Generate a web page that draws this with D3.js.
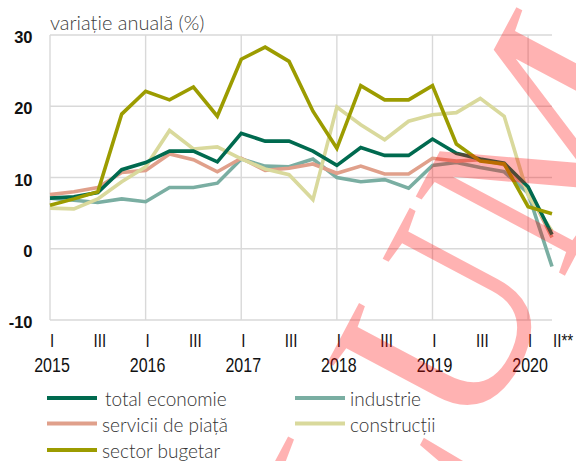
<!DOCTYPE html>
<html>
<head>
<meta charset="utf-8">
<script src="https://cdn.jsdelivr.net/npm/d3@7"></script>
<style>
  html, body { margin: 0; padding: 0; background: #ffffff; }
  svg { display: block; }
</style>
</head>
<body>
<svg id="chart" width="576" height="461"></svg>
<script>
// ---------- DATA ----------
const quarters = [
  "2015Q1","2015Q2","2015Q3","2015Q4",
  "2016Q1","2016Q2","2016Q3","2016Q4",
  "2017Q1","2017Q2","2017Q3","2017Q4",
  "2018Q1","2018Q2","2018Q3","2018Q4",
  "2019Q1","2019Q2","2019Q3","2019Q4",
  "2020Q1","2020Q2"
];
const quarterTickLabels = [
  "I","","III","", "I","","III","", "I","","III","",
  "I","","III","", "I","","III","", "I","II**"
];
const yearLabels = ["2015","2016","2017","2018","2019","2020"];
const yearQuarters = ["2015Q1","2016Q1","2017Q1","2018Q1","2019Q1","2020Q1"];
const yTicks = [-10, 0, 10, 20, 30];

const totalEconomie = [7.1, 7.3, 7.9, 11.1, 12.1, 13.7, 13.7, 12.2, 16.2, 15.1, 15.1, 13.7, 11.7, 14.2, 13.1, 13.1, 15.4, 13.4, 12.6, 12.0, 8.7, 2.0];
const industrie     = [7.1, 6.8, 6.5, 7.0, 6.6, 8.6, 8.6, 9.2, 12.6, 11.6, 11.5, 12.6, 10.0, 9.4, 9.7, 8.5, 11.7, 12.1, 11.4, 10.8, 7.8, -2.5];
const serviciiPiata = [7.6, 8.0, 8.6, 10.7, 11.0, 13.3, 12.5, 10.8, 12.7, 11.0, 11.3, 11.9, 10.6, 11.6, 10.5, 10.5, 12.7, 12.3, 12.5, 11.8, 8.3, 1.6];
const constructii   = [5.7, 5.6, 7.0, 9.4, 11.5, 16.6, 14.0, 14.3, 12.6, 11.2, 10.4, 6.9, 19.9, 17.4, 15.3, 17.9, 18.8, 19.1, 21.1, 18.6, 7.5, 2.5];
const sectorBugetar = [6.1, 7.0, 8.0, 18.9, 22.1, 20.9, 22.7, 18.6, 26.6, 28.3, 26.3, 19.3, 14.1, 22.9, 20.9, 20.9, 22.9, 14.7, 12.3, 11.9, 5.9, 4.9];

const seriesNames = ["total economie","industrie","servicii de piață","construcții","sector bugetar"];
const watermarkText = "VOLUME";
const titleText = "variație anuală (%)";

// ---------- STYLE ----------
const colors = {
  "total economie": "#006a4f",
  "industrie": "#7aaea2",
  "servicii de piață": "#e0a08b",
  "construcții": "#d9d99c",
  "sector bugetar": "#9c9c00"
};
const seriesValues = {
  "total economie": totalEconomie,
  "industrie": industrie,
  "servicii de piață": serviciiPiata,
  "construcții": constructii,
  "sector bugetar": sectorBugetar
};
const drawOrder = ["industrie","servicii de piață","construcții","total economie","sector bugetar"];

const svg = d3.select("#chart");
const plot = { left: 50, right: 552, top: 35, bottom: 320 };

const x = d3.scalePoint().domain(quarters).range([plot.left, plot.right]);
const y = d3.scaleLinear().domain([-10, 30]).range([plot.bottom, plot.top]);

// gridlines
const grid = svg.append("g");
grid.selectAll("line.h").data(yTicks).join("line")
  .attr("x1", plot.left).attr("x2", plot.right)
  .attr("y1", d => y(d)).attr("y2", d => y(d))
  .attr("stroke", "#d9d9d9").attr("stroke-width", 1.4);
grid.selectAll("line.v").data(yearQuarters).join("line")
  .attr("x1", d => x(d)).attr("x2", d => x(d))
  .attr("y1", plot.top).attr("y2", plot.bottom)
  .attr("stroke", "#d9d9d9").attr("stroke-width", 1.4);

// y axis labels
svg.append("g").selectAll("text").data(yTicks).join("text")
  .attr("x", 32.5).attr("y", d => y(d) + 8)
  .attr("text-anchor", "end")
  .attr("font-family", "'Liberation Sans Narrow', 'Liberation Sans', sans-serif")
  .attr("font-weight", "bold")
  .attr("font-size", 16.5)
  .attr("fill", "#111")
  .text(d => d);

// title
svg.append("text")
  .attr("x", 50).attr("y", 30)
  .attr("font-family", "Lato, sans-serif")
  .attr("font-weight", 300)
  .attr("font-size", 20)
  .attr("fill", "#404040")
  .text(titleText);

// x axis quarter labels
const condensed = "'Liberation Sans Narrow', 'Liberation Sans', sans-serif";
svg.append("g").selectAll("text").data(quarters).join("text")
  .attr("transform", (d, i) => {
    const lbl = quarterTickLabels[i];
    const px = lbl === "II**" ? x(d) + 1 : x(d) + 2;
    return `translate(${px},347) scale(0.8,1)`;
  })
  .attr("text-anchor", (d, i) => quarterTickLabels[i] === "II**" ? "start" : "middle")
  .attr("font-family", condensed)
  .attr("font-size", 19)
  .attr("fill", "#111")
  .text((d, i) => quarterTickLabels[i]);

// year labels
svg.append("g").selectAll("text").data(yearQuarters).join("text")
  .attr("transform", d => `translate(${x(d) + 2},372) scale(0.8,1)`)
  .attr("text-anchor", "middle")
  .attr("font-family", condensed)
  .attr("font-size", 20)
  .attr("fill", "#111")
  .text((d, i) => yearLabels[i]);

// lines
const line = d3.line()
  .x((d, i) => x(quarters[i]))
  .y(d => y(d));
svg.append("g").selectAll("path").data(drawOrder).join("path")
  .attr("d", k => line(seriesValues[k]))
  .attr("fill", "none")
  .attr("stroke", k => colors[k])
  .attr("stroke-width", 3.6)
  .attr("stroke-linejoin", "miter")
  .attr("stroke-linecap", "butt");

// legend
const legendItems = [
  { name: "total economie", col: 0, row: 0, lead: 3 },
  { name: "industrie", col: 1, row: 0, lead: 0 },
  { name: "servicii de piață", col: 0, row: 1, lead: 0 },
  { name: "construcții", col: 1, row: 1, lead: 0 },
  { name: "sector bugetar", col: 0, row: 2, lead: 0 }
];
const legCols = [47, 295];
const legRows = [398, 423.5, 450];
const lg = svg.append("g");
legendItems.forEach(it => {
  const lx = legCols[it.col], ly = legRows[it.row];
  lg.append("line")
    .attr("x1", lx).attr("x2", lx + 50)
    .attr("y1", ly).attr("y2", ly)
    .attr("stroke", colors[it.name]).attr("stroke-width", 4);
  lg.append("text")
    .attr("x", lx + 55 + it.lead).attr("y", ly + 8)
    .attr("font-family", "Lato, sans-serif")
    .attr("font-weight", 300)
    .attr("font-size", 19)
    .attr("fill", "#333")
    .text(it.name);
});

// watermark
svg.append("text")
  .attr("transform", "translate(225,915) rotate(-62)")
  .attr("font-family", "'Liberation Serif', 'Times New Roman', serif")
  .attr("font-size", 258)
  .attr("fill", "#ff0000")
  .attr("fill-opacity", 0.3)
  .text(watermarkText);
</script>
</body>
</html>
